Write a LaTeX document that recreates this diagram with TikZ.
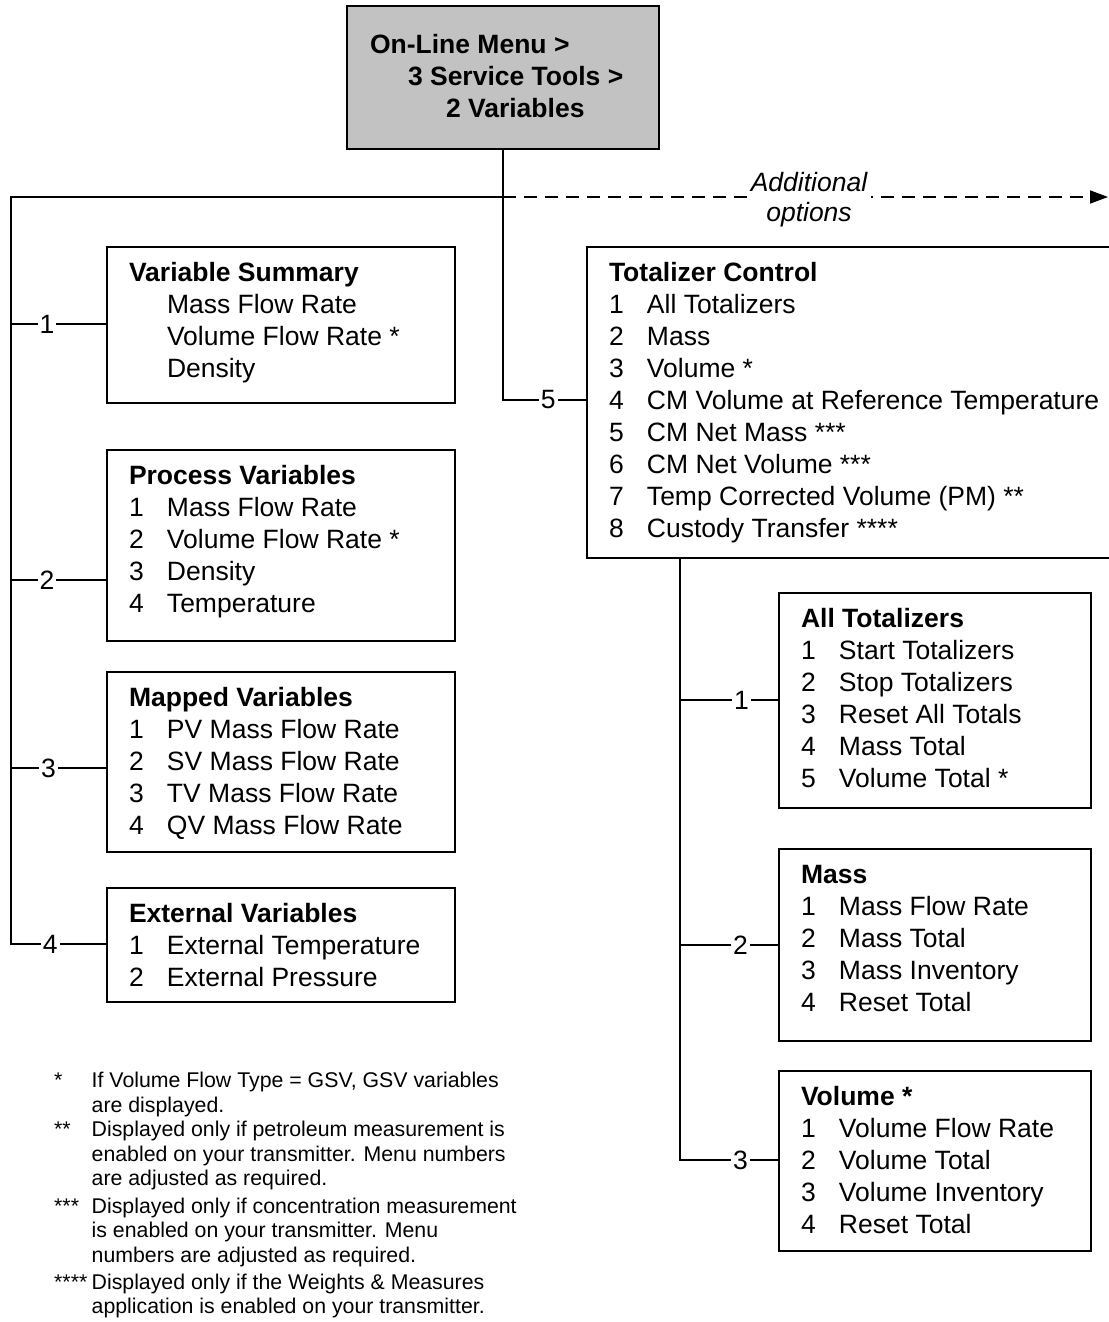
\documentclass[tikz,border=0pt]{standalone}
\usepackage{fontspec}
\setmainfont{Liberation Sans}
\usepackage{array}
\usetikzlibrary{arrows.meta}
\definecolor{topgray}{RGB}{194,194,194}
\newcommand{\mfont}{\fontsize{26.5}{32}\selectfont}
\newcommand{\nfont}{\fontsize{21.3}{24.5}\selectfont}
\newcommand{\ttl}[1]{\multicolumn{2}{@{}l@{}}{\bfseries #1}}
\newcommand{\menu}[1]{\begin{tabular}[t]{@{}p{38pt}@{}l@{}}#1\end{tabular}}
\begin{document}
\begin{tikzpicture}[x=1pt,y=-1pt,
  box/.style={draw=black, line width=1.3pt, anchor=north west, inner sep=0pt, outer sep=0pt},
  txt/.style={anchor=base west, inner sep=0pt, outer sep=0pt, font=\mfont},
  trunk/.style={line width=2.3pt, line cap=rect},
  branch/.style={line width=1.3pt},
  lbl/.style={fill=white, inner xsep=2pt, inner ysep=0pt, font=\mfont},
  dashline/.style={line width=1.6pt, dash pattern=on 13pt off 8pt, -{Triangle[length=18pt,width=13pt]}},
  addl/.style={fill=white, inner xsep=4pt, inner ysep=0pt, align=center, font=\fontsize{26.5}{30}\selectfont\itshape}
]
\useasboundingbox (0,0) rectangle (1108,1322);
\fill[white] (0,0) rectangle (1108,1322);

% helper coordinates
\coordinate (y197) at (0,197);
\coordinate (y324) at (0,324);
\coordinate (y400) at (0,400);
\coordinate (y580) at (0,580);
\coordinate (y768) at (0,768);
\coordinate (y944) at (0,944);
\coordinate (y700) at (0,700);
\coordinate (y1160) at (0,1160);
\coordinate (lx) at (11,0);
\coordinate (rx) at (680,0);
\coordinate (E) at (1108,197);

% top box
\node[box, fill=topgray, minimum width=312, minimum height=143] (top) at (347,6) {};
\node[txt, font=\mfont\bfseries] (topT) at (370,54) {\begin{tabular}[t]{@{}l@{}}On-Line Menu >\\\hspace{38pt}3 Service Tools >\\\hspace{76pt}2 Variables\end{tabular}};

% left boxes
\node[box, minimum width=348, minimum height=156] (vs) at (107,247) {};
\node[txt] (vsT) at (129,281) {\menu{\ttl{Variable Summary}\\ & Mass Flow Rate\\ & Volume Flow Rate *\\ & Density}};

\node[box, minimum width=348, minimum height=191] (pv) at (107,450) {};
\node[txt] (pvT) at (129,484) {\menu{\ttl{Process Variables}\\1 & Mass Flow Rate\\2 & Volume Flow Rate *\\3 & Density\\4 & Temperature}};

\node[box, minimum width=348, minimum height=180] (mv) at (107,672) {};
\node[txt] (mvT) at (129,706) {\menu{\ttl{Mapped Variables}\\1 & PV Mass Flow Rate\\2 & SV Mass Flow Rate\\3 & TV Mass Flow Rate\\4 & QV Mass Flow Rate}};

\node[box, minimum width=348, minimum height=114] (ev) at (107,888) {};
\node[txt] (evT) at (129,922) {\menu{\ttl{External Variables}\\1 & External Temperature\\2 & External Pressure}};

% totalizer control
\node[box, minimum width=540, minimum height=311] (tc) at (587,247) {};
\node[txt] (tcT) at (609,281) {\menu{\ttl{Totalizer Control}\\1 & All Totalizers\\2 & Mass\\3 & Volume *\\4 & CM Volume at Reference Temperature\\5 & CM Net Mass ***\\6 & CM Net Volume ***\\7 & Temp Corrected Volume (PM) **\\8 & Custody Transfer ****}};

% right boxes
\node[box, minimum width=312, minimum height=215] (at) at (779,593) {};
\node[txt] (atT) at (801,627) {\menu{\ttl{All Totalizers}\\1 & Start Totalizers\\2 & Stop Totalizers\\3 & Reset All Totals\\4 & Mass Total\\5 & Volume Total *}};

\node[box, minimum width=312, minimum height=192] (ms) at (779,849) {};
\node[txt] (msT) at (801,883) {\menu{\ttl{Mass}\\1 & Mass Flow Rate\\2 & Mass Total\\3 & Mass Inventory\\4 & Reset Total}};

\node[box, minimum width=312, minimum height=180] (vo) at (779,1071) {};
\node[txt] (voT) at (801,1105) {\menu{\ttl{Volume *}\\1 & Volume Flow Rate\\2 & Volume Total\\3 & Volume Inventory\\4 & Reset Total}};

% main trunk
\coordinate (J) at (top.south |- y197);
\draw[trunk] (top.south) -- (J) -- (lx |- y197) -- (lx |- y944);
\draw[branch] (lx |- y324) -- node[lbl, pos=0.375] {1} (vs.west |- y324);
\draw[branch] (lx |- y580) -- node[lbl, pos=0.375] {2} (pv.west |- y580);
\draw[branch] (lx |- y768) -- node[lbl, pos=0.39] {3} (mv.west |- y768);
\draw[branch] (lx |- y944) -- node[lbl, pos=0.41] {4} (ev.west |- y944);

% branch 5
\draw[branch] (J) -- (J |- y400) -- node[lbl, pos=0.54] {5} (tc.west |- y400);

% additional options
\draw[dashline] (J) -- (E);
\node[addl] (add) at (809,200) {Additional\\options};

% right trunk
\draw[trunk] (rx |- tc.south) -- (rx |- y1160);
\draw[branch] (rx |- y700) -- node[lbl, pos=0.62] {1} (at.west |- y700);
\draw[branch] (rx |- ms.west) -- node[lbl, pos=0.61] {2} (ms.west);
\draw[branch] (rx |- y1160) -- node[lbl, pos=0.61] {3} (vo.west |- y1160);

% footnotes
\node[anchor=base west, inner sep=0pt, font=\nfont] (notes) at (54,1087.5) {\begin{tabular}[t]{@{}p{37.5pt}@{}l@{}}
{*} & If Volume Flow Type = GSV, GSV variables\\\relax
  & are displayed.\\\relax
{**} & Displayed only if petroleum measurement is\\\relax
  & enabled on your transmitter. Menu numbers\\\relax
  & are adjusted as required.\\[3pt]
{***} & Displayed only if concentration measurement\\\relax
  & is enabled on your transmitter. Menu\\\relax
  & numbers are adjusted as required.\\[2.5pt]
{****} & Displayed only if the Weights \& Measures\\\relax
  & application is enabled on your transmitter.
\end{tabular}};
\end{tikzpicture}
\end{document}
